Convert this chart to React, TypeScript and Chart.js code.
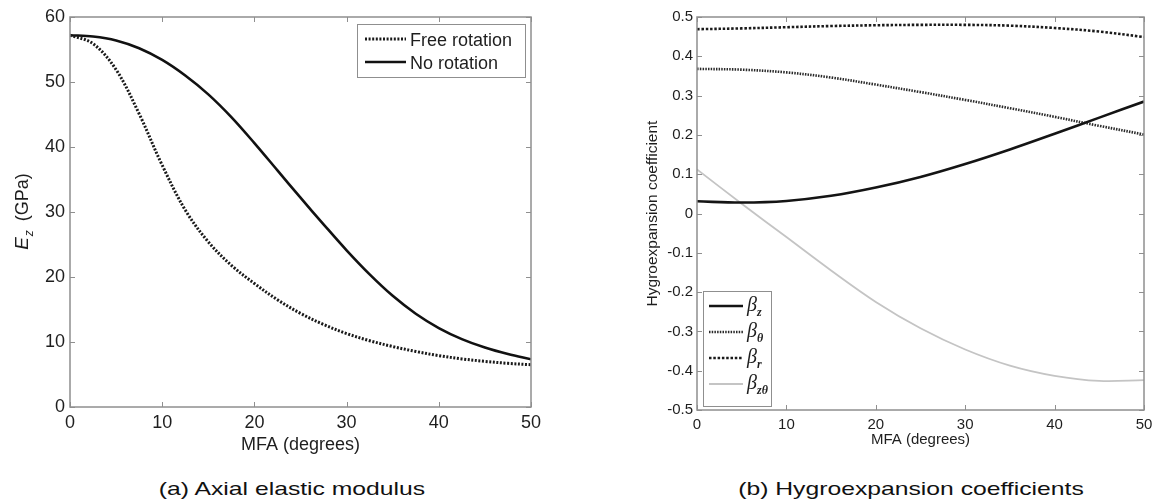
import React, { useEffect, useRef } from "react";
import { Chart, registerables } from "chart.js";

Chart.register(...registerables);

// ---------- Data: (a) Axial elastic modulus ----------
const MFA_A = [0, 2.5, 5, 7.5, 10, 12.5, 15, 17.5, 20, 22.5, 25, 27.5, 30, 32.5, 35, 37.5, 40, 42.5, 45, 47.5, 50];
const FREE_ROTATION = [57.2, 55.9, 51.9, 45.1, 37.2, 30.3, 25.4, 21.8, 19.0, 16.5, 14.4, 12.7, 11.3, 10.2, 9.3, 8.55, 7.9, 7.4, 7.02, 6.72, 6.5];
const NO_ROTATION = [57.2, 57.0, 56.4, 55.2, 53.4, 51.0, 48.1, 44.6, 40.6, 36.4, 32.2, 28.1, 24.1, 20.4, 17.1, 14.35, 12.15, 10.45, 9.15, 8.15, 7.35];
const Y_TICKS_A = [0, 10, 20, 30, 40, 50, 60];
const X_TICKS = [0, 10, 20, 30, 40, 50];

// ---------- Data: (b) Hygroexpansion coefficients ----------
const MFA_B = [0, 5, 10, 15, 20, 25, 30, 35, 40, 45, 50];
const BETA_Z = [0.031, 0.028, 0.032, 0.045, 0.066, 0.093, 0.126, 0.163, 0.203, 0.244, 0.285];
const BETA_THETA = [0.368, 0.366, 0.359, 0.346, 0.328, 0.309, 0.289, 0.268, 0.246, 0.223, 0.201];
const BETA_R = [0.469, 0.471, 0.474, 0.477, 0.479, 0.48, 0.48, 0.478, 0.472, 0.463, 0.449];
const BETA_ZTHETA = [0.112, 0.025, -0.06, -0.145, -0.225, -0.292, -0.346, -0.387, -0.413, -0.426, -0.424];
const Y_TICKS_B = [-0.5, -0.4, -0.3, -0.2, -0.1, 0, 0.1, 0.2, 0.3, 0.4, 0.5];

const TEXT = "#1e1e1e";
const FRAME = "#8f8f8f";
const SANS = '"Liberation Sans", Arial, sans-serif';
const SERIF = '"Liberation Serif", "Times New Roman", serif';

const pts = (xs: number[], ys: number[]) => xs.map((x, i) => ({ x, y: ys[i] }));

// Matlab-like box with inward ticks
const matlabAxes = {
  id: "matlabAxes",
  afterDatasetsDraw(chart: any, _args: any, opts: any) {
    const { ctx, chartArea } = chart;
    const { left, right, top, bottom } = chartArea;
    const xs = chart.scales.x;
    const ys = chart.scales.y;
    const len = opts.tickLen ?? 5;
    ctx.save();
    ctx.strokeStyle = opts.color ?? FRAME;
    ctx.lineWidth = 1;
    ctx.beginPath();
    xs.ticks.forEach((t: any) => {
      const p = Math.round(xs.getPixelForValue(t.value)) + 0.5;
      ctx.moveTo(p, bottom);
      ctx.lineTo(p, bottom - len);
      ctx.moveTo(p, top);
      ctx.lineTo(p, top + len);
    });
    ys.ticks.forEach((t: any) => {
      const p = Math.round(ys.getPixelForValue(t.value)) + 0.5;
      ctx.moveTo(left, p);
      ctx.lineTo(left + len, p);
      ctx.moveTo(right, p);
      ctx.lineTo(right - len, p);
    });
    ctx.stroke();
    ctx.lineWidth = opts.frameWidth ?? 1.5;
    ctx.strokeRect(left, top, right - left, bottom - top);
    ctx.restore();
  },
};

// Framed legend drawn on the canvas
const boxLegend = {
  id: "boxLegend",
  afterDraw(chart: any, _args: any, opts: any) {
    if (!opts || !opts.box) return;
    const { ctx } = chart;
    const b = opts.box;
    ctx.save();
    ctx.fillStyle = "#ffffff";
    ctx.fillRect(b.x1, b.y1, b.x2 - b.x1, b.y2 - b.y1);
    ctx.strokeStyle = FRAME;
    ctx.lineWidth = 1;
    ctx.strokeRect(b.x1 + 0.5, b.y1 + 0.5, b.x2 - b.x1, b.y2 - b.y1);
    opts.items.forEach((it: any) => {
      const ds = chart.data.datasets[it.dataset];
      ctx.save();
      ctx.strokeStyle = ds.borderColor;
      ctx.lineWidth = ds.borderWidth;
      ctx.setLineDash(ds.borderDash || []);
      ctx.beginPath();
      ctx.moveTo(opts.lineX1, it.y);
      ctx.lineTo(opts.lineX2, it.y);
      ctx.stroke();
      ctx.restore();
      ctx.fillStyle = TEXT;
      ctx.textBaseline = "alphabetic";
      ctx.textAlign = "left";
      ctx.font = opts.mainFont;
      ctx.fillText(it.main, opts.textX, it.y + opts.mainDy);
      if (it.sub) {
        const w = ctx.measureText(it.main).width;
        ctx.font = opts.subFont;
        ctx.fillText(it.sub, opts.textX + w + opts.subDx, it.y + opts.subDy);
      }
    });
    ctx.restore();
  },
};

// Rotated y-axis title with italic E and subscript z
const ezTitle = {
  id: "ezTitle",
  afterDraw(chart: any, _args: any, opts: any) {
    if (!opts || !opts.show) return;
    const { ctx } = chart;
    ctx.save();
    ctx.translate(opts.x, opts.y);
    ctx.rotate(-Math.PI / 2);
    ctx.fillStyle = TEXT;
    ctx.textBaseline = "alphabetic";
    ctx.textAlign = "left";
    const fE = `italic 19px ${SANS}`;
    const fz = `italic 12px ${SANS}`;
    const fG = `18px ${SANS}`;
    ctx.font = fE;
    const wE = ctx.measureText("E").width;
    ctx.font = fz;
    const wz = ctx.measureText("z").width;
    ctx.font = fG;
    const wG = ctx.measureText("(GPa)").width;
    const gap = 9;
    const total = wE + wz + gap + wG;
    let x = -total / 2;
    const base = 6;
    ctx.font = fE;
    ctx.fillText("E", x, base);
    x += wE + 1;
    ctx.font = fz;
    ctx.fillText("z", x, base + 5);
    x += wz + gap;
    ctx.font = fG;
    ctx.fillText("(GPa)", x, base);
    ctx.restore();
  },
};

function ChartCanvas({ config, width, height }: { config: any; width: number; height: number }) {
  const ref = useRef<HTMLCanvasElement | null>(null);
  useEffect(() => {
    if (!ref.current) return;
    const chart = new Chart(ref.current, config);
    return () => chart.destroy();
  }, [config]);
  return <canvas ref={ref} width={width} height={height} style={{ display: "block", width, height }} />;
}

function baseScales(opts: {
  yMin: number; yMax: number; yTicks: number[];
  tickFont: number; yWidth: number; xHeight: number; xPad: number; yPad: number;
  xTitleFont: number; xTitlePadBottom: number;
  yTitle?: { text: string; font: number; padTop: number };
  fmt: (v: number) => string;
}) {
  return {
    x: {
      type: "linear",
      min: 0,
      max: 50,
      afterBuildTicks: (s: any) => { s.ticks = X_TICKS.map((v) => ({ value: v })); },
      ticks: { color: TEXT, font: { family: SANS, size: opts.tickFont }, padding: opts.xPad, maxRotation: 0 },
      grid: { display: false, drawTicks: false },
      border: { display: false },
      title: {
        display: true,
        text: "MFA (degrees)",
        color: TEXT,
        font: { family: SANS, size: opts.xTitleFont },
        padding: { top: 0, bottom: opts.xTitlePadBottom },
      },
      afterFit: (s: any) => { s.height = opts.xHeight; },
    },
    y: {
      type: "linear",
      min: opts.yMin,
      max: opts.yMax,
      afterBuildTicks: (s: any) => { s.ticks = opts.yTicks.map((v) => ({ value: v })); },
      ticks: { color: TEXT, font: { family: SANS, size: opts.tickFont }, padding: opts.yPad, callback: (v: any) => opts.fmt(Number(v)) },
      grid: { display: false, drawTicks: false },
      border: { display: false },
      title: opts.yTitle
        ? {
            display: true,
            text: opts.yTitle.text,
            color: TEXT,
            font: { family: SANS, size: opts.yTitle.font },
            padding: { top: opts.yTitle.padTop, bottom: 0 },
          }
        : { display: false },
      afterFit: (s: any) => { s.width = opts.yWidth; },
    },
  };
}

const lineBase = { pointRadius: 0, tension: 0.35, cubicInterpolationMode: "default", fill: false };

const configA = {
  type: "line",
  data: {
    datasets: [
      {
        ...lineBase,
        label: "Free rotation",
        data: pts(MFA_A, FREE_ROTATION),
        borderColor: "#1a1a1a",
        borderWidth: 3,
        borderDash: [2, 1.6],
      },
      {
        ...lineBase,
        label: "No rotation",
        data: pts(MFA_A, NO_ROTATION),
        borderColor: "#111111",
        borderWidth: 2.6,
        borderDash: [],
      },
    ],
  },
  options: {
    responsive: false,
    animation: false,
    devicePixelRatio: 1,
    layout: { padding: { left: 0, top: 17, right: 49, bottom: 0 } },
    plugins: {
      legend: { display: false },
      tooltip: { enabled: false },
      matlabAxes: { color: FRAME, tickLen: 5, frameWidth: 1.5 },
      ezTitle: { show: true, x: 22, y: 212 },
      boxLegend: {
        box: { x1: 357, y1: 24, x2: 525, y2: 77 },
        lineX1: 365,
        lineX2: 406,
        textX: 410,
        mainFont: `18px ${SANS}`,
        subFont: `12px ${SANS}`,
        mainDy: 6.5,
        subDy: 0,
        subDx: 0,
        items: [
          { dataset: 0, y: 39, main: "Free rotation" },
          { dataset: 1, y: 62, main: "No rotation" },
        ],
      },
    },
    scales: baseScales({
      yMin: 0, yMax: 60, yTicks: Y_TICKS_A,
      tickFont: 18, yWidth: 70, xHeight: 53, xPad: 5, yPad: 5,
      xTitleFont: 18, xTitlePadBottom: 4,
      fmt: (v) => String(v),
    }),
  },
  plugins: [matlabAxes, boxLegend, ezTitle],
};

const configB = {
  type: "line",
  data: {
    datasets: [
      {
        ...lineBase,
        label: "βz",
        data: pts(MFA_B, BETA_Z),
        borderColor: "#141414",
        borderWidth: 2.6,
        borderDash: [],
      },
      {
        ...lineBase,
        label: "βθ",
        data: pts(MFA_B, BETA_THETA),
        borderColor: "#2a2a2a",
        borderWidth: 2.6,
        borderDash: [1.5, 1.2],
      },
      {
        ...lineBase,
        label: "βr",
        data: pts(MFA_B, BETA_R),
        borderColor: "#1a1a1a",
        borderWidth: 2.6,
        borderDash: [2.5, 1.8],
      },
      {
        ...lineBase,
        label: "βzθ",
        data: pts(MFA_B, BETA_ZTHETA),
        borderColor: "#c4c4c4",
        borderWidth: 1.8,
        borderDash: [],
      },
    ],
  },
  options: {
    responsive: false,
    animation: false,
    devicePixelRatio: 1,
    layout: { padding: { left: 0, top: 17, right: 20, bottom: 0 } },
    plugins: {
      legend: { display: false },
      tooltip: { enabled: false },
      matlabAxes: { color: FRAME, tickLen: 5, frameWidth: 1.5 },
      boxLegend: {
        box: { x1: 123, y1: 291, x2: 191, y2: 406 },
        lineX1: 129,
        lineX2: 163,
        textX: 167,
        mainFont: `italic 20px ${SERIF}`,
        subFont: `italic bold 12px ${SERIF}`,
        mainDy: 5,
        subDy: 10,
        subDx: 0,
        items: [
          { dataset: 0, y: 306, main: "β", sub: "z" },
          { dataset: 1, y: 332, main: "β", sub: "θ" },
          { dataset: 2, y: 358, main: "β", sub: "r" },
          { dataset: 3, y: 384, main: "β", sub: "zθ" },
        ],
      },
    },
    scales: baseScales({
      yMin: -0.5, yMax: 0.5, yTicks: Y_TICKS_B,
      tickFont: 15, yWidth: 117, xHeight: 50, xPad: 6, yPad: 4,
      xTitleFont: 15, xTitlePadBottom: 11,
      yTitle: { text: "Hygroexpansion coefficient", font: 15.5, padTop: 63 },
      fmt: (v) => {
        const r = Math.round(v * 10) / 10;
        return r === 0 ? "0" : String(r);
      },
    }),
  },
  plugins: [matlabAxes, boxLegend],
};

const captionStyle = (cx: number): React.CSSProperties => ({
  position: "absolute",
  left: cx - 250,
  width: 500,
  top: 477,
  height: 24,
  lineHeight: "24px",
  textAlign: "center",
  fontFamily: SANS,
  fontSize: 19,
  color: "#111",
  transform: "scaleX(1.3)",
  transformOrigin: "center",
  whiteSpace: "nowrap",
});

export default function App() {
  return (
    <div
      style={{
        position: "absolute",
        left: 0,
        top: 0,
        width: 1164,
        height: 503,
        background: "#ffffff",
        overflow: "hidden",
      }}
    >
      <div style={{ position: "absolute", left: 0, top: 0 }}>
        <ChartCanvas config={configA} width={580} height={460} />
      </div>
      <div style={{ position: "absolute", left: 580, top: 0 }}>
        <ChartCanvas config={configB} width={584} height={460} />
      </div>
      <div style={captionStyle(292)}>(a) Axial elastic modulus</div>
      <div style={captionStyle(911)}>(b) Hygroexpansion coefficients</div>
    </div>
  );
}
